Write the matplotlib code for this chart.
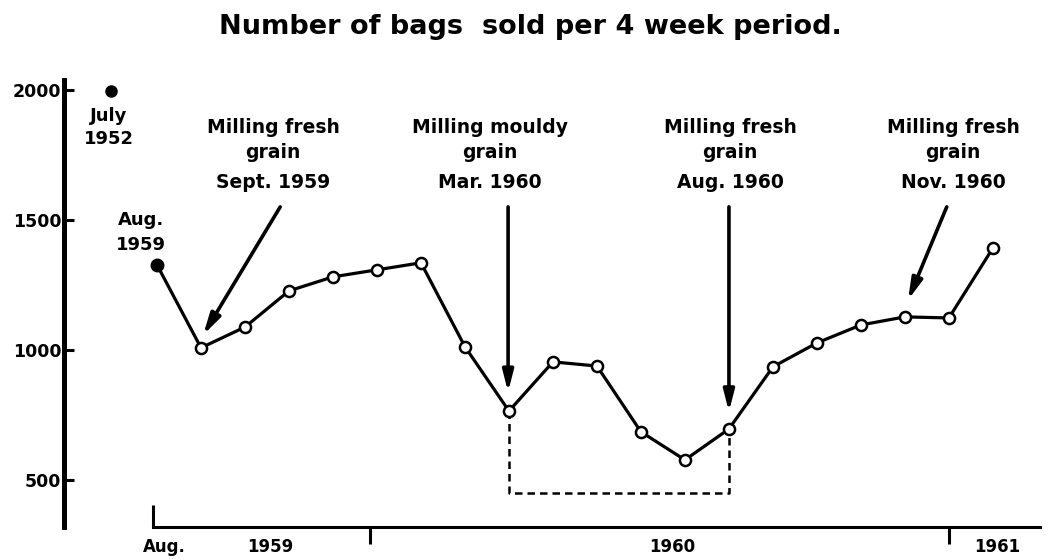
import matplotlib
matplotlib.use("Agg")
import matplotlib.pyplot as plt

# 4-week periods, counted from Aug. 1959
periods = list(range(20))
bags = [1327, 1008, 1088, 1227, 1281, 1308, 1335, 1012, 765, 954,
        938, 685, 577, 696, 935, 1027, 1096, 1127, 1123, 1392]

# the single earlier reading, July 1952
ref_period = -1.05
ref_bags = 1995

# year boundaries (in periods) and the floor of the dashed box
year_ticks = [4.85, 18.0]
year_labels = ["1959", "1960", "1961"]
year_label_pos = [2.57, 11.7, 19.1]
box_from, box_to, box_floor = 8, 13, 450

y_ticks = [500, 1000, 1500, 2000]

W, H = 1047, 559
fig = plt.figure(figsize=(W / 100, H / 100), dpi=100)
ax = fig.add_axes([64 / W, 32 / H, 976 / W, 447 / H])
ax.set_xlim(-2.114, 20.07)
ax.set_ylim(319, 2038)

font = dict(family="DejaVu Sans", weight="bold", color="black")

# axes styling
for s in ["top", "right"]:
    ax.spines[s].set_visible(False)
ax.spines["left"].set_linewidth(3.6)
ax.spines["bottom"].set_linewidth(2.2)
ax.spines["bottom"].set_bounds(-0.09, 20.07)
ax.set_yticks(y_ticks)
ax.set_yticklabels([str(v) for v in y_ticks], fontsize=12.5, **font)
ax.tick_params(axis="y", direction="in", length=7, width=2.2, pad=2)
ax.set_xticks(year_ticks)
ax.set_xticklabels([])
ax.tick_params(axis="x", direction="out", length=12, width=2.2)
ax.set_xticks([-0.09], minor=True)
ax.tick_params(axis="x", which="minor", direction="in", length=16, width=2.2)

# main series
ax.plot(periods, bags, color="black", lw=2.3, zorder=3)
ax.plot(periods[1:], bags[1:], "o", ms=8, mfc="white", mec="black", mew=1.8, zorder=4)
ax.plot(periods[0], bags[0], "o", ms=9, color="black", zorder=4)
ax.plot(ref_period, ref_bags, "o", ms=8, color="black", clip_on=False, zorder=4)

# dashed box under the mouldy grain dip
ax.plot([box_from, box_from, box_to, box_to],
        [bags[box_from], box_floor, box_floor, bags[box_to]],
        color="black", lw=1.8, ls=(0, (3, 2)), zorder=2)

# arrows
arrow = dict(arrowstyle="-|>,head_length=0.9,head_width=0.23", lw=2.6,
             color="black", mutation_scale=14, shrinkA=0, shrinkB=0)
ax.annotate("", xy=(1.05, 1058), xytext=(2.8, 1550), arrowprops=arrow)
ax.annotate("", xy=(7.98, 838), xytext=(7.98, 1550), arrowprops=arrow)
ax.annotate("", xy=(13.0, 762), xytext=(13.0, 1550), arrowprops=arrow)
ax.annotate("", xy=(17.07, 1192), xytext=(17.95, 1550), arrowprops=arrow)


def label(x, y, s, size=15):
    fig.text(x / W, 1 - y / H, s, ha="center", va="center", fontsize=size, **font)


label(530, 27, "Number of bags  sold per 4 week period.", size=19.5)

for cx, lines in [(273, ["Milling fresh", "grain", "Sept. 1959"]),
                  (490, ["Milling mouldy", "grain", "Mar. 1960"]),
                  (730, ["Milling fresh", "grain", "Aug. 1960"]),
                  (953, ["Milling fresh", "grain", "Nov. 1960"])]:
    label(cx, 128, lines[0], size=13.5)
    label(cx, 152, lines[1], size=13.5)
    label(cx, 183, lines[2], size=13.5)

label(109, 116, "July", size=13)
label(109, 139, "1952", size=13)
label(141, 220, "Aug.", size=13)
label(141, 245, "1959", size=13)

# time axis labels
label(164, 547, "Aug.", size=12)
for pos, txt in zip(year_label_pos, year_labels):
    px = 157 + 44 * pos
    label(px, 547, txt, size=12)

fig.savefig("out.png", dpi=100, facecolor="white")
